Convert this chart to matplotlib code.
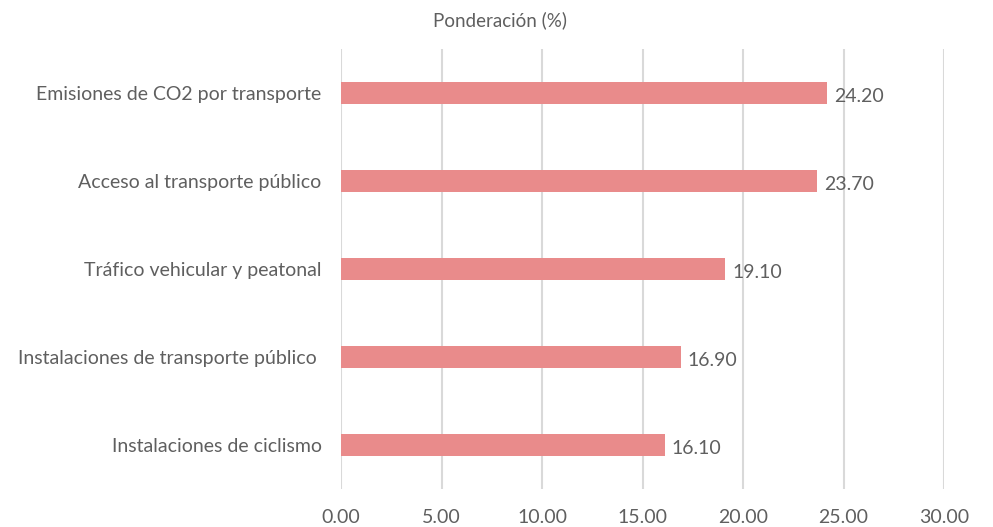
import matplotlib.pyplot as plt
from matplotlib import font_manager

categories = [
    "Emisiones de CO2 por transporte",
    "Acceso al transporte público",
    "Tráfico vehicular y peatonal",
    "Instalaciones de transporte público ",
    "Instalaciones de ciclismo",
]
values = [24.20, 23.70, 19.10, 16.90, 16.10]
xticks = [0, 5, 10, 15, 20, 25, 30]

fam = "Lato"
names = {f.name for f in font_manager.fontManager.ttflist}
if fam not in names:
    fam = "DejaVu Sans"
plt.rcParams["font.family"] = [fam, "DejaVu Sans"]

text_color = "#5f5f5f"
bar_color = "#E98B8B"

fig = plt.figure(figsize=(9.93, 5.27), dpi=100)
ax = fig.add_axes([0.3434, 0.072, 0.6073, 0.835])

pos = list(range(len(categories)))
ax.barh(pos, values, height=0.25, color=bar_color, zorder=3)
for p, v in zip(pos, values):
    ax.text(v + 0.35, p + 0.04, f"{v:.2f}", va="center", ha="left",
            fontsize=14, color=text_color)

ax.set_xlim(0, 30)
ax.set_ylim(len(categories) - 0.5, -0.5)
ax.set_xticks(xticks)
ax.set_xticklabels([f"{x:.2f}" for x in xticks], fontsize=14, color=text_color)
ax.set_yticks(pos)
ax.set_yticklabels(categories, fontsize=14, color=text_color)
ax.tick_params(axis="x", length=0, pad=14)
ax.tick_params(axis="y", length=0, pad=14)
ax.grid(axis="x", color="#D9D9D9", linewidth=1.5, zorder=0)
for s in ax.spines.values():
    s.set_visible(False)

fig.text(0.504, 0.962, "Ponderación (%)", ha="center", va="center",
         fontsize=13.5, color=text_color)

fig.savefig("out.png", dpi=100)
